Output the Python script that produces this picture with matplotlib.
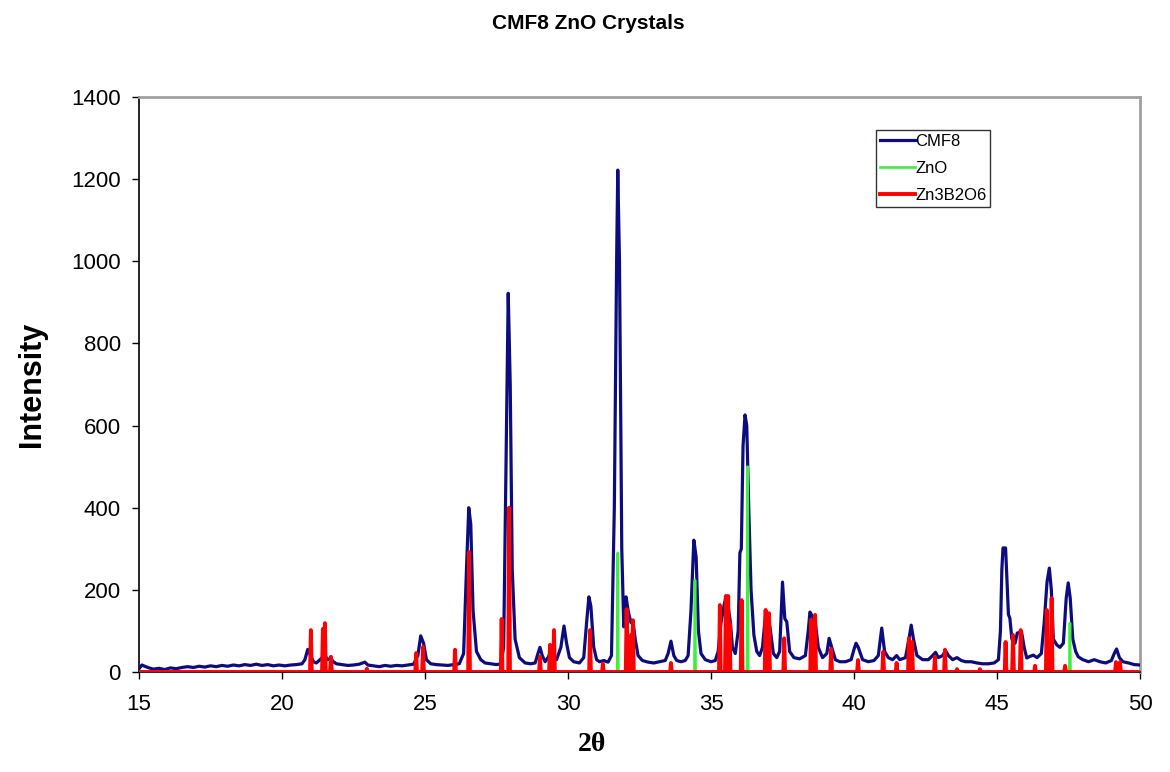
import matplotlib
matplotlib.use("Agg")
import matplotlib.pyplot as plt
import numpy as np

plt.rcParams["font.family"] = ["Liberation Sans", "DejaVu Sans"]

# measured pattern for CMF8 (2-theta, counts)
cmf8_2theta = [
    15.0, 15.1, 15.2, 15.35, 15.5, 15.7, 15.9, 16.1, 16.3, 16.5, 16.7, 16.9,
    17.1, 17.3, 17.5, 17.7, 17.9, 18.1, 18.3, 18.5, 18.7, 18.9, 19.1, 19.3,
    19.5, 19.7, 19.9, 20.1, 20.3, 20.5, 20.7, 20.8, 20.9, 21.0, 21.1, 21.2,
    21.3, 21.4, 21.5, 21.6, 21.7, 21.8, 21.9, 22.1, 22.3, 22.5, 22.7, 22.9,
    23.0, 23.2, 23.4, 23.6, 23.8, 24.0, 24.2, 24.4, 24.6, 24.75, 24.85, 24.95,
    25.05, 25.2, 25.4, 25.6, 25.8, 26.0, 26.2, 26.35, 26.45, 26.53, 26.6, 26.68,
    26.8, 26.95, 27.1, 27.3, 27.5, 27.65, 27.75, 27.83, 27.91, 27.98, 28.05, 28.15,
    28.3, 28.5, 28.7, 28.85, 28.95, 29.02, 29.1, 29.2, 29.3, 29.4, 29.5, 29.6,
    29.75, 29.86, 29.95, 30.05, 30.2, 30.4, 30.55, 30.65, 30.73, 30.8, 30.9, 31.0,
    31.1, 31.25, 31.4, 31.52, 31.62, 31.7, 31.74, 31.8, 31.88, 31.95, 32.03, 32.1,
    32.2, 32.27, 32.35, 32.45, 32.6, 32.8, 33.0, 33.2, 33.4, 33.5, 33.6, 33.7,
    33.8, 33.95, 34.1, 34.2, 34.3, 34.4, 34.48, 34.56, 34.65, 34.8, 35.0, 35.15,
    35.25, 35.35, 35.45, 35.52, 35.6, 35.68, 35.75, 35.85, 35.95, 36.01, 36.06, 36.12,
    36.19, 36.25, 36.32, 36.4, 36.5, 36.6, 36.7, 36.8, 36.9, 37.0, 37.08, 37.18,
    37.3, 37.4, 37.5, 37.58, 37.65, 37.75, 37.9, 38.1, 38.3, 38.4, 38.46, 38.55,
    38.65, 38.75, 38.9, 39.05, 39.13, 39.22, 39.35, 39.5, 39.7, 39.9, 40.0, 40.07,
    40.15, 40.3, 40.5, 40.7, 40.85, 40.97, 41.07, 41.2, 41.35, 41.49, 41.6, 41.8,
    41.92, 42.0, 42.08, 42.2, 42.4, 42.6, 42.75, 42.85, 42.95, 43.1, 43.2, 43.3,
    43.45, 43.6, 43.75, 43.9, 44.1, 44.3, 44.5, 44.7, 44.9, 45.05, 45.12, 45.17,
    45.21, 45.3, 45.35, 45.4, 45.45, 45.52, 45.63, 45.71, 45.86, 45.95, 46.04, 46.15,
    46.27, 46.4, 46.55, 46.65, 46.75, 46.83, 46.9, 46.97, 47.09, 47.2, 47.32, 47.42,
    47.49, 47.56, 47.65, 47.75, 47.84, 48.0, 48.2, 48.4, 48.6, 48.8, 49.0, 49.1,
    49.18, 49.28, 49.4, 49.6, 49.8, 50.0,
]
cmf8_counts = [
    8, 17, 14, 10, 7, 9, 6, 10, 8, 11, 13, 11,
    14, 12, 15, 13, 16, 14, 17, 15, 18, 16, 19, 16,
    18, 15, 17, 15, 17, 18, 20, 30, 55, 40, 25, 22,
    28, 35, 40, 30, 33, 25, 20, 18, 16, 17, 19, 24,
    17, 15, 13, 16, 14, 16, 15, 17, 19, 40, 88, 70,
    30, 20, 18, 17, 16, 18, 20, 45, 250, 400, 360, 150,
    50, 30, 22, 20, 18, 20, 60, 500, 922, 700, 250, 80,
    35, 22, 20, 22, 45, 60, 40, 25, 35, 50, 35, 30,
    60, 112, 70, 35, 25, 22, 35, 120, 183, 160, 60, 30,
    25, 28, 24, 40, 400, 1000, 1222, 1000, 300, 110, 183, 150,
    120, 125, 80, 40, 28, 24, 22, 25, 28, 45, 75, 40,
    28, 25, 28, 40, 150, 321, 280, 100, 45, 30, 25, 28,
    50, 120, 160, 183, 160, 120, 60, 45, 100, 290, 300, 550,
    626, 600, 400, 200, 90, 50, 40, 60, 135, 140, 100, 45,
    35, 50, 219, 130, 122, 50, 35, 32, 40, 100, 146, 135,
    120, 60, 35, 45, 82, 60, 30, 25, 25, 30, 55, 70,
    60, 30, 25, 28, 40, 107, 50, 35, 30, 40, 30, 35,
    80, 114, 80, 40, 30, 30, 40, 48, 35, 40, 52, 40,
    30, 35, 28, 25, 25, 22, 20, 20, 22, 30, 100, 250,
    302, 302, 224, 140, 131, 80, 70, 95, 97, 60, 34, 38,
    41, 35, 45, 120, 220, 253, 200, 80, 66, 60, 70, 180,
    217, 180, 80, 50, 37, 30, 25, 30, 25, 22, 28, 45,
    56, 35, 25, 22, 18, 17,
]

# reference line positions and intensities
zno_2theta = [31.74, 34.44, 36.28, 47.55]
zno_int = [290, 224, 500, 119]

zn3b2o6_2theta = [
    21.01, 21.43, 21.5, 21.71, 22.97, 24.69, 24.93, 26.05, 26.54, 27.68, 27.94,
    29.02, 29.37, 29.51, 30.77, 31.22, 32.05, 32.2, 32.27, 33.6, 35.31, 35.52,
    35.6, 35.65, 36.07, 36.91, 37.03, 37.56, 38.5, 38.64, 39.2, 40.14, 41.02,
    41.49, 41.92, 42.03, 42.83, 43.18, 43.6, 44.4, 45.3, 45.56, 45.83, 46.33,
    46.74, 46.91, 47.38, 49.16, 49.3,
]
zn3b2o6_int = [
    102, 105, 119, 37, 8, 46, 61, 54, 292, 129, 400,
    37, 66, 102, 102, 20, 153, 90, 126, 22, 163, 185,
    185, 119, 175, 151, 143, 82, 127, 139, 56, 29, 49,
    22, 82, 73, 37, 54, 7, 7, 73, 90, 102, 15,
    151, 180, 15, 24, 24,
]


def stick_trace(pos, heights, start=15.0, end=50.0, half=0.02):
    # one continuous trace: baseline at zero with a narrow spike per line
    xs, ys = [start], [0]
    for p, h in sorted(zip(pos, heights)):
        xs += [p - half, p, p + half]
        ys += [0, h, 0]
    xs.append(end)
    ys.append(0)
    return xs, ys


fig = plt.figure(figsize=(11.7, 7.72), dpi=100)
ax = fig.add_axes([139 / 1170, 1 - 672 / 772, (1140 - 139) / 1170, (672 - 97) / 772])

ax.plot(cmf8_2theta, cmf8_counts, color="#0c0c80", lw=2.3, label="CMF8", zorder=3)
zx, zy = stick_trace(zno_2theta, zno_int)
ax.plot(zx, zy, color="#3cf03c", lw=1.9, label="ZnO", zorder=4)
rx, ry = stick_trace(zn3b2o6_2theta, zn3b2o6_int, half=0.03)
ax.plot(rx, ry, color="#ff0000", lw=2.8, label="Zn3B2O6", zorder=5)

ax.set_xlim(15, 50)
ax.set_ylim(0, 1400)
ax.set_xticks(range(15, 51, 5))
ax.set_yticks(range(0, 1401, 200))
ax.tick_params(axis="both", direction="out", length=5, width=1, labelsize=16)
ax.tick_params(axis="x", pad=11)
ax.tick_params(axis="y", pad=8)

for side in ("top", "right"):
    ax.spines[side].set_color("#a0a0a0")
    ax.spines[side].set_linewidth(2)
ax.spines["left"].set_linewidth(1.2)
ax.spines["bottom"].set_linewidth(1.2)

leg = ax.legend(loc="upper left", bbox_to_anchor=(876 / 1170, 1 - 130 / 772),
                bbox_transform=fig.transFigure, borderaxespad=0, fontsize=12,
                frameon=True, fancybox=False, handlelength=2.1, handletextpad=0.05,
                labelspacing=0.74, borderpad=0.21)
leg.get_frame().set_edgecolor("black")
leg.get_frame().set_linewidth(1)

fig.text(0.5026, 0.969, "CMF8 ZnO Crystals", ha="center", va="center",
         fontsize=15, fontweight="bold")
fig.text(0.027, 0.5026, "Intensity", ha="center", va="center", rotation=90,
         fontsize=22, fontweight="bold")
fig.text(0.506, 0.035, "2θ", ha="center", va="center", fontsize=20,
         fontweight="bold", family=["Liberation Serif", "DejaVu Serif"])

fig.savefig("out.png", dpi=100)
